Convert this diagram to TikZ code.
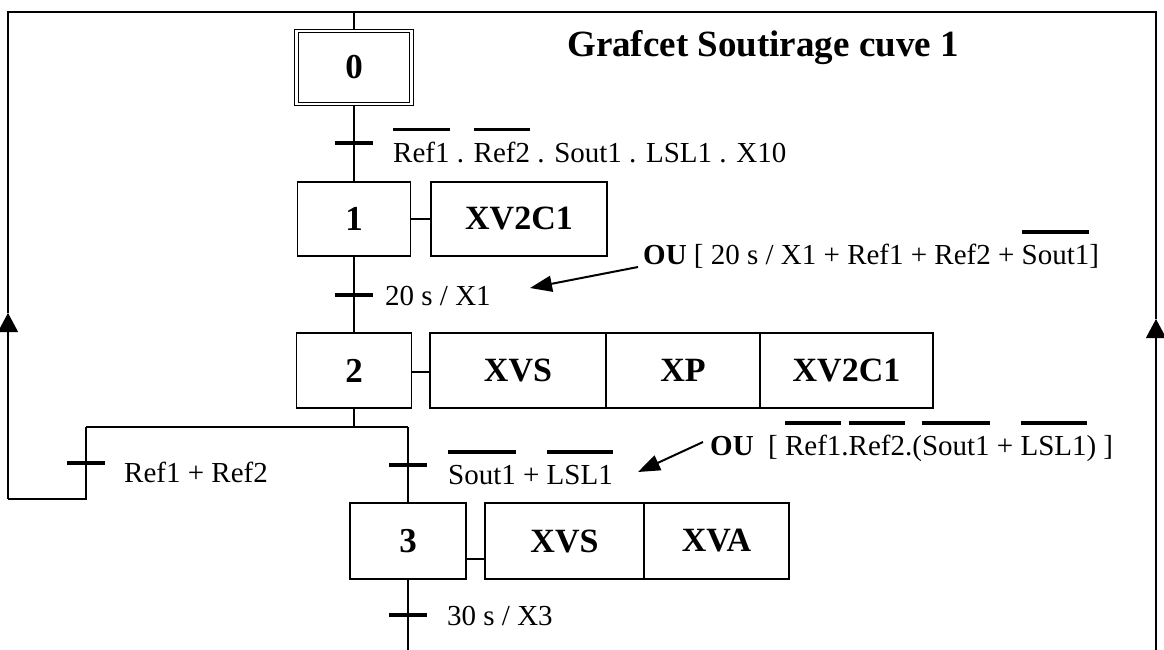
\documentclass[tikz,border=0pt]{standalone}
\usepackage{fontspec}
\setmainfont{Liberation Serif}
\usetikzlibrary{arrows.meta,calc}
\newlength\ovlen
\newcommand{\ovl}[1]{\settowidth{\ovlen}{#1}\makebox[0pt][l]{\rule[30.5pt]{\ovlen}{3.5pt}}#1}
\begin{document}
\begin{tikzpicture}[x=1pt,y=-1pt,
  line/.style={line width=1.2pt},
  stepbox/.style={draw, line width=1.2pt, inner sep=0pt, font=\fontsize{35}{40}\selectfont\bfseries},
  actbox/.style={draw, line width=1.2pt, inner sep=0pt, font=\fontsize{34}{40}\selectfont\bfseries},
  tbar/.style={fill=black, inner sep=0pt, minimum width=38pt, minimum height=4.5pt},
  tlabel/.style={anchor=base west, inner sep=0pt, font=\fontsize{29}{34}\selectfont},
  upar/.style={line width=1.2pt, -{Triangle[length=19pt,width=20pt]}},
  notear/.style={line width=2pt, -{Triangle[length=22pt,width=16pt]}}
]
\useasboundingbox (0,0) rectangle (1164,650);
\fill[white] (0,0) rectangle (1164,650);

% title
\node[font=\fontsize{37}{44}\selectfont\bfseries, inner sep=0pt] (title) at (763,48) {Grafcet Soutirage cuve 1};

% steps
\node[stepbox, double, double distance=2.2pt, minimum width=115pt, minimum height=73pt] (s0) at (354,67.5) {0};
\node[stepbox, minimum width=113pt, minimum height=74pt] (s1) at (354,219) {1};
\node[stepbox, minimum width=115pt, minimum height=75pt] (s2) at (354,370.5) {2};
\node[stepbox, minimum width=116pt, minimum height=76pt] (s3) at (408,541) {3};

% actions
\node[actbox, minimum width=176pt, minimum height=74pt] (a1) at (519,219) {XV2C1};
\node[actbox, minimum width=176pt, minimum height=75pt] (a2a) at (518,370.5) {XVS};
\node[actbox, minimum width=154pt, minimum height=75pt] (a2b) at (683,370.5) {XP};
\node[actbox, minimum width=173pt, minimum height=75pt] (a2c) at (846.5,370.5) {XV2C1};
\node[actbox, minimum width=159pt, minimum height=76pt] (a3a) at (564.5,541) {XVS};
\node[actbox, minimum width=145pt, minimum height=76pt] (a3b) at (716.5,541) {XVA};

% coordinates
\coordinate (top0) at (354,12);
\coordinate (tl) at (8,12);
\coordinate (tr) at (1156,12);
\coordinate (dl) at (86,427);
\coordinate (dm) at (354,427);
\coordinate (dr) at (408,427);
\coordinate (lb) at (86,499);
\coordinate (bl) at (8,499);
\coordinate (la) at (8,313);
\coordinate (ra) at (1156,319);
\coordinate (rb) at (1156,650);
\coordinate (s3b) at (408,650);
\coordinate (l2) at (0,372);
\coordinate (l3) at (0,559);

% links
\draw[line] (top0) -- (s0.north);
\draw[line] (s0.south) -- (s1.north);
\draw[line] (s1.south) -- (s2.north);
\draw[line] (s2.south) -- (dm);
\draw[line] (dl) -- (dr);
\draw[line] (dr) -- (s3.north);
\draw[line] (s3.south) -- (s3b);
\draw[line] (dl) -- (lb) -- (bl);
\draw[upar] (bl) -- (la);
\draw[line] (la) -- (tl) -- (tr) -- (ra);
\draw[upar] (rb) -- (ra);

\draw[line] (s1.east) -- (a1.west);
\draw[line] (s2.east |- l2) -- (a2a.west |- l2);
\draw[line] (s3.east |- l3) -- (a3a.west |- l3);

% transitions
\node[tbar] (t1) at (354,143) {};
\node[tbar] (t2) at (354,295) {};
\node[tbar] (tl1) at (86,463) {};
\node[tbar] (tr1) at (408,465) {};
\node[tbar] (t3) at (408,615) {};

\node[tlabel] (t1l) at (393,162) {\ovl{Ref1} . \ovl{Ref2} . Sout1 . LSL1 . X10};
\node[tlabel] (t2l) at (385,305) {20 s / X1};
\node[tlabel] (tll) at (124,482) {Ref1 + Ref2};
\node[tlabel] (trl) at (448,484) {\ovl{Sout1} + \ovl{LSL1}};
\node[tlabel] (t3l) at (447,625) {30 s / X3};

% notes
\node[tlabel] (ou1) at (643,264) {\textbf{OU} [ 20 s / X1 + Ref1 + Ref2 + \ovl{Sout1}]};
\node[tlabel] (ou2) at (710,455) {\textbf{OU}\ \ [ \ovl{Ref1}.\ovl{Ref2}.(\ovl{Sout1} + \ovl{LSL1}) ]};

\coordinate (n1s) at (638,267);
\coordinate (n1e) at (530,288);
\coordinate (n2s) at (703,442);
\coordinate (n2e) at (638,472);
\draw[notear] (n1s) -- (n1e);
\draw[notear] (n2s) -- (n2e);
\end{tikzpicture}
\end{document}
